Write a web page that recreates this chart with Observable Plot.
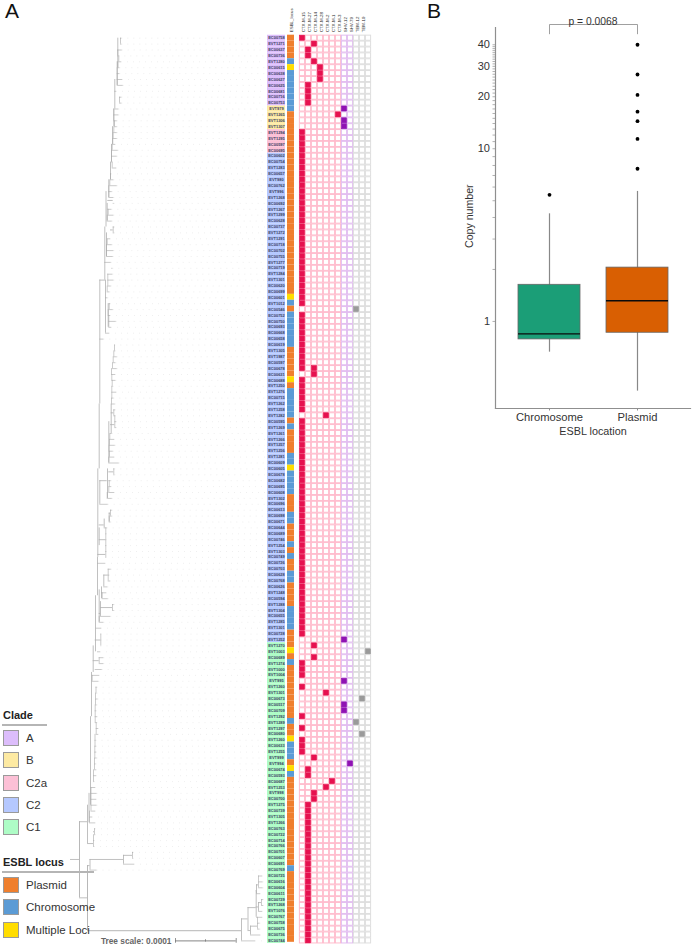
<!DOCTYPE html>
<html>
<head>
<meta charset="utf-8">
<script src="https://cdn.jsdelivr.net/npm/d3@7"></script>
<script src="https://cdn.jsdelivr.net/npm/@observablehq/plot@0.6"></script>
<style>
  html,body{margin:0;padding:0;background:#fff;}
  #page{position:relative;width:692px;height:945px;overflow:hidden;font-family:"Liberation Sans",Arial,sans-serif;}
  #page svg{position:absolute;top:0;background:transparent;}
  .letter{position:absolute;font-size:21px;line-height:20px;color:#111;}
  .legTitle{position:absolute;left:3px;font-size:11px;font-weight:bold;color:#222;line-height:13px;}
  .legRule{position:absolute;left:2px;height:1.5px;background:#b5b5b5;}
  .swatch{position:absolute;left:3px;width:14px;height:14px;border:1px solid #9a9a9a;}
  .legLab{position:absolute;left:26px;font-size:11.5px;line-height:14px;color:#333;}
</style>
</head>
<body>
<div id="page"></div>
<script>
// ---------- Panel A data ----------
const rowIds = [
"EC00758","EVT1271","EC00637","EC00736","EVT1280","EC00615","EC00638","EC00627","EC00625","EC00681",
"EC00716","EC00753","EVT979","EVT1265","EVT1306","EVT1307","EVT1294","EVT1295","EC00597","EC00695",
"EC00602","EC00754","EVT1283","EC00657","EVT980","EC00762","EVT996","EVT1268","EC00692","EVT1267",
"EVT1299","EC00628","EC00737","EVT1272","EVT1291","EC00718","EC00702","EC00755","EVT1277","EC00719",
"EVT1284","EVT1301","EC00620","EC00699","EC00601","EVT1012","EC00546","EC00752","EC00750","EC00693",
"EC00668","EC00658","EC00619","EVT1305","EVT1987","EC00597","EC00678","EC00631","EC00688","EVT1250",
"EVT1276","EC00715","EVT1262","EVT1258","EVT1282","EC00595","EVT1269","EVT1261","EVT1266","EVT1257",
"EVT1256","EVT1281","EC00609","EC00605","EC00678","EC00682","EC00695","EC00608","EVT1302","EC00696",
"EC00613","EC00698","EC00671","EC00644","EC00689","EC00746","EVT1254","EVT1303","EC00749","EC00726",
"EC00703","EC00628","EC00768","EC00626","EVT1248","EC00594","EVT1288","EVT1304","EC00655","EVT1285",
"EVT1301","EC00728","EVT1252","EVT1270","EVT1003","EC00689","EVT1274","EVT1000","EVT1004","EVT995",
"EVT1260","EVT1301","EC00673","EC00517","EC00709","EVT1292","EVT1289","EVT1297","EC00680","EVT1260",
"EC00633","EVT1255","EVT999","EVT994","EC00674","EC00593","EC00687","EVT1253","EVT998","EC00700",
"EVT1275","EC00739","EVT1305","EVT1266","EC00763","EC00722","EC00714","EC00766","EC00701","EC00607",
"EC00691","EC00769","EC00725","EC00616","EC00604","EC00611","EC00729","EVT1268","EVT1076","EC00767",
"EC00758","EC00675","EC00736","EC00744"];

const cladeNames = ["A","B","C2a","C2","C1"];
const cladeColors = ["#dcbdfb","#fdeaa3","#fcc0d6","#b5c8ff","#aefcc6"];
const cladeRuns = [["A",12],["B",4],["C2a",4],["C2",83],["C1",51]];

const locusNames = ["Plasmid","Chromosome","Multiple Loci"];
const locusColors = ["#ef7f2e","#5b9bd5","#ffdd00"];
const locusRuns = [["P",4],["C",1],["M",1],["C",7],["P",31],["M",1],["C",1],["P",1],["C",6],["P",5],["M",1],["P",1],
["C",5],["P",1],["C",1],["P",4],["C",2],["M",1],["C",4],["P",3],["C",2],["P",3],["C",1],["P",1],["C",1],["P",2],
["C",2],["P",4],["C",4],["P",3],["M",1],["P",1],["C",1],["P",9],["C",1],["P",2],["M",1],["C",3],["P",1],["M",1],
["C",1],["P",15],["C",1],["P",12]];

const geneNames = ["CTX-M-15","CTX-M-27","CTX-M-14","CTX-M-28","CTX-M-2","CTX-M-1","CTX-M-3","SHV-12","SHV-79","TEM-12","TEM-19",""];
const geneFamilies = ["CTX-M","CTX-M","CTX-M","CTX-M","CTX-M","CTX-M","CTX-M","SHV","SHV","TEM","TEM","TEM"];
const familyNames = ["CTX-M","SHV","TEM"];
const familyHitColors = ["#e6114f","#8f12b3","#9a9a9a"];
const familyGridColors = ["#ffbccd","#e2bdf0","#dedede"];
// gene column -> [first row, last row] ranges carrying that gene
const geneHits = [
 [[0,0],[16,45],[47,56],[58,63],[65,101],[106,108],[110,110],[115,115],[117,117],[119,121]],
 [[2,3],[8,11],[124,125],[130,153]],
 [[1,1],[4,4],[56,57],[103,103],[105,105],[122,122],[128,129]],
 [[5,7]],
 [[64,64],[111,111],[127,127]],
 [[126,126]],
 [[13,13]],
 [[12,12],[14,15],[102,102],[109,109],[113,114]],
 [[123,123]],
 [[46,46],[116,116]],
 [[112,112],[118,118]],
 [[104,104]]
];

// tree: branch start and tip per row, in tree units (60.7 units = 0.0001 subst/site)
const treeParent = [
241,250,257,257,256,258,261,261,256,258,
258,258,89.5,123,132,132,93,93,94,94,
89,89,90.5,90.5,90.5,90.5,90.5,93,93,94,
94,94.3,94.3,94.5,94.5,95.7,95.7,94.7,94.7,94.7,
95,95,95.5,95.5,91.7,91.7,94.7,98.7,98.7,97,
100.3,100.3,100.3,95.7,98.7,100,112,112,101.7,101,
103.3,107.7,107.7,107.7,97.3,105.3,105.3,105.3,105.3,105.3,
103.7,108.7,110,110,99.3,106.7,108.3,108.7,108.3,113.3,
113.3,108.3,109,108.7,109,109.3,110,114.3,114.3,113.3,
113.3,111,111.3,111.3,111.7,111.3,111,112,112.7,113.3,
114,114,99.3,105,108.3,108.3,107.7,108.7,108.7,105,
106.7,107.3,107.3,107.3,111.3,104.3,106,106,106.7,107.3,
112.7,112.7,106.7,107.7,107.3,112.7,108.3,108.3,109.3,110,
110,111.7,111,111,111.7,112.3,112.7,113.3,114,113.3,
113.3,114.3,119,119,114.3,116.7,116.7,116.7,117.3,118.3,
117.3,117.3,120,120];
const treeTip = [
255,260,259.5,259.5,262,262,263,263,260,262.5,
262.5,262,96.5,134,133,133,94,94,95,95,
95,92,95,96.5,96,96.5,95,94,96,96,
95.5,96.5,96,96,95.5,98,98,96.5,97,96,
96.5,97.5,96.5,96.7,98.3,99,101.7,103.3,103.3,100,
100.5,100.5,100.5,101,103.3,110.3,113.7,113.7,107.7,106,
107.3,110,109,110.7,105,106,106,106,105.7,106,
106.7,110.3,111.7,111.7,107.7,111.7,114,111,110.7,114.3,
114.3,118.7,114,112.7,114.7,114,111.7,116,116,115,
115,114.7,113.3,116,112.7,115.3,115,116.7,115.3,116.7,
115,114.3,103.3,109,111,115.7,110,112.7,110,107.3,
109.3,110.7,113.3,112.3,112.3,110.7,112.7,113.3,111.7,110,
114,114,111.7,113.3,111.3,113.7,113.3,111.7,116.7,113.3,
111,116,111.7,116.7,117.7,115,116.7,116.7,116.7,116.7,
118.3,118.3,121.3,121.3,116,122.7,122,119.3,119.3,121,
118.3,121.7,121.3,121.3];
// internal branches: [x, row from, row to]
const treeVert = [
[79,7.3,20.2],[87,1.75,12.76],[241,0,3.73],[247.5,1.75,5.64],[250,1,2.5],[255.7,4,8.5],[258,5,6.5],[256,8,9.5],
[89.5,12,13.8],[123,13,14.5],[87,16.5,23],[88.5,20,25],[90,23,38],[91,38,45.5],[92.7,45.5,50],[95,49,58.5],
[97,58.5,65],[97.3,65,80],[98.7,80,91],[99.3,91,112],[98.7,54,59.5],[100,55,57.5],[101,58,60],[103.3,60,62],
[98.7,67,70],[103.7,70,71.5],[108.7,71,72.5],[99.3,74,78],[107,75,80],[108.3,81,88],[110.7,86,91],
[105,103,112],[107.7,104,108],[104.3,112,121],[106,116,120],[106.7,122,125],[105.5,121,127],[108.3,126,129],
[110,129,132],[111,132,135],[112,135,138],[113.3,138,141],[114.3,141,146],[116.7,145,149],[117.3,148,153]
];
// internal branches: [x from, x to, row]
const treeHoriz = [
[70,79,13.8],[79,87,7.3],[241,247.5,3.73],[247.5,250,1.75],[247.5,255.7,5.64],[250,257,2.5],[255.7,258,5.75],
[258,261,6.5],[255.7,256,8.5],[256,258,9.5],[87,89.5,12.76],[89.5,123,13.8],[123,132,14.5],[79,87,20.2],[87,93,16.5],
[93,94,18.5],[92.7,98.7,47.5],[94.7,100.3,51],[98.7,100,55.5],[100,112,56.5],[103.3,107.7,62],[97.3,105.3,65.5],
[98.7,105.3,68],[98.7,103.7,70.5],[108.7,110,72.5],[99.3,106.7,78],[108.3,113.3,79.5],[110,114.3,87.5],[110.7,113.3,89.5],
[99.3,105,112],[110,112.7,120.5],[107.3,112.7,125.5]
];
const treeTrunk = [[87,241,1.75]];
const scaleBarStart = 175, scaleBarMid = 205, scaleBarEnd = 235.7, scaleBarRow = 0;
const treeLabel = "Tree scale: 0.0001";

// ---------- Panel B data ----------
const boxCategories = ["Chromosome","Plasmid"];
const boxColors = ["#1b9e77","#d95f02"];
const boxQ1 = [0.787,0.86];
const boxMedian = [0.848,1.318];
const boxQ3 = [1.63,2.05];
const whiskerLow = [0.664,0.395];
const whiskerHigh = [4.2,5.66];
const outlierChromosome = [5.41];
const outlierPlasmid = [40,26.9,20.5,16.4,14.45,11.4,7.66];
const yTicksLabelled = [1,5,10,20,30,40];
const yTicksAll = d3.range(1,41);
const pText = "p = 0.0068";

// ---------- build tables ----------
const expand = runs => runs.flatMap(([k,n]) => Array(n).fill(k));
const cladeOf = expand(cladeRuns);
const locusKey = {P:"Plasmid",C:"Chromosome",M:"Multiple Loci"};
const locusOf = expand(locusRuns).map(k => locusKey[k]);
const rows = rowIds.map((id,i)=>({i,id,clade:cladeOf[i],locus:locusOf[i],parent:treeParent[i],tip:treeTip[i]}));
const rowDomain = rows.map(r=>r.i);
const geneCols = geneNames.map((g,c)=> c + "|" + g);
const grid = geneCols.flatMap((g,c)=>rows.map(r=>({g,row:r.i,family:geneFamilies[c]})));
const hits = geneHits.flatMap((ranges,c)=>ranges.flatMap(([a,b])=>d3.range(a,b+1).map(row=>({g:geneCols[c],row,family:geneFamilies[c]}))));

const page = document.getElementById("page");
const FONT = '"Liberation Sans",Arial,sans-serif';
const M_TOP = 34.75, M_BOTTOM = 1.65;

function place(svg,left){ svg.style.left = left+"px"; page.appendChild(svg); }

function rowPlot(left,width,xDomain,extra,marks){
  const p = Plot.plot({
    width, height:945, marginTop:M_TOP, marginBottom:M_BOTTOM, marginLeft:0, marginRight:0,
    style:{fontFamily:FONT,background:"transparent",overflow:"visible"},
    x:{type:"band",domain:xDomain,padding:0,axis:null},
    y:{type:"band",domain:rowDomain,padding:0,axis:null},
    ...extra, marks});
  place(p,left);
}

// ---------- tree ----------
const autoVert = [];
for(let i=0;i<rows.length-1;i++){
  if(Math.abs(treeParent[i]-treeParent[i+1])<1.6) autoVert.push([treeParent[i],i,i+1]);
}
place(Plot.plot({
  width:267,height:945,marginTop:M_TOP,marginBottom:M_BOTTOM,marginLeft:0,marginRight:0,
  style:{fontFamily:FONT,background:"transparent",overflow:"visible"},
  x:{domain:[0,267],axis:null},
  y:{domain:[-0.5,153.5],axis:null},
  marks:[
    Plot.ruleY(rows,{y:"i",x1:"tip",x2:()=>265,stroke:"#e4e4e4",strokeWidth:0.6,strokeDasharray:"1,5"}),
    Plot.ruleY(treeTrunk,{x1:d=>d[0],x2:d=>d[1],y:d=>d[2],stroke:"#c4c4c4",strokeWidth:1.2}),
    Plot.ruleX(treeVert.slice(0,2),{x:d=>d[0],y1:d=>d[1],y2:d=>d[2],stroke:"#b8b8b8",strokeWidth:1}),
    Plot.ruleX(treeVert.slice(2),{x:d=>d[0],y1:d=>d[1],y2:d=>d[2],stroke:"#b0b0b0",strokeWidth:0.8}),
    Plot.ruleX(autoVert,{x:d=>d[0],y1:d=>d[1],y2:d=>d[2],stroke:"#a8a8a8",strokeWidth:0.6}),
    Plot.ruleY(treeHoriz,{x1:d=>d[0],x2:d=>d[1],y:d=>d[2],stroke:"#b0b0b0",strokeWidth:0.8}),
    Plot.ruleY(rows,{x1:"parent",x2:"tip",y:"i",stroke:"#a8a8a8",strokeWidth:0.6}),
    Plot.ruleY([scaleBarRow],{x1:()=>scaleBarStart,x2:()=>scaleBarEnd,stroke:"#777",strokeWidth:0.9}),
    Plot.ruleX([scaleBarStart,scaleBarEnd],{y1:()=>scaleBarRow-0.4,y2:()=>scaleBarRow+0.4,stroke:"#777",strokeWidth:0.8}),
    Plot.ruleX([scaleBarMid],{y1:()=>scaleBarRow-0.2,y2:()=>scaleBarRow+0.2,stroke:"#777",strokeWidth:0.8}),
    Plot.text([treeLabel],{x:()=>scaleBarStart,y:()=>scaleBarRow,dx:-4,textAnchor:"end",fontSize:8.3,fontWeight:"bold",fill:"#666"})
  ]
}),0);

// ---------- clade / id column ----------
rowPlot(266.7,18.6,["id"],{color:{domain:cladeNames,range:cladeColors}},[
  Plot.cell(rows,{x:()=>"id",y:"i",fill:"clade"}),
  Plot.text(rows,{x:()=>"id",y:"i",text:"id",fontSize:4,fontWeight:"bold",fill:"#3a3f63",textAnchor:"middle"})
]);

// ---------- ESBL locus column ----------
rowPlot(287.3,7.7,["ESBL_locus"],{color:{domain:locusNames,range:locusColors}},[
  Plot.cell(rows,{x:()=>"ESBL_locus",y:"i",fill:"locus"}),
  Plot.text(["ESBL_locus"],{x:d=>d,frameAnchor:"top",rotate:-90,textAnchor:"start",dy:-3,dx:-1,fontSize:4.4,fill:"#222"})
]);

// ---------- gene matrix ----------
rowPlot(297,75,geneCols,{color:{domain:familyNames,range:familyHitColors}},[
  ...familyNames.map((f,k)=>Plot.cell(grid.filter(d=>d.family===f),{x:"g",y:"row",fill:"white",stroke:familyGridColors[k],strokeWidth:1,inset:0.4})),
  Plot.cell(hits,{x:"g",y:"row",fill:"family",stroke:"family",strokeWidth:0.5,inset:0.4}),
  Plot.text(geneCols.filter((g,c)=>geneNames[c]!==""),{x:d=>d,text:d=>d.split("|")[1],frameAnchor:"top",rotate:-90,textAnchor:"start",dy:-3,dx:-1,fontSize:4.4,fill:"#222"})
]);

// ---------- Panel B ----------
const boxes = boxCategories.map((c,i)=>({c,q1:boxQ1[i],med:boxMedian[i],q3:boxQ3[i],lo:whiskerLow[i],hi:whiskerHigh[i]}));
const outliers = [...outlierChromosome.map(v=>({c:boxCategories[0],v})),...outlierPlasmid.map(v=>({c:boxCategories[1],v}))];
const yLow = 0.3133, yHigh = 61.5, axisGray = "#8f8f8f", inkGray = "#333";
const bracket = [{c:boxCategories[0],v:46.3},{c:boxCategories[0],v:52.4},{c:boxCategories[1],v:52.4},{c:boxCategories[1],v:46.3}];
place(Plot.plot({
  width:272,height:440,marginTop:12,marginBottom:32,marginLeft:75,marginRight:2,
  style:{fontFamily:FONT,background:"transparent",overflow:"visible",fontSize:"11px"},
  x:{type:"band",domain:boxCategories,paddingInner:0.3,paddingOuter:0.25,label:null},
  y:{type:"log",domain:[yLow,yHigh],label:null},
  color:{domain:boxCategories,range:boxColors},
  marks:[
    Plot.ruleX(boxes,{x:"c",y1:"lo",y2:"hi",stroke:"#888",strokeWidth:1.2}),
    Plot.barY(boxes,{x:"c",y1:"q1",y2:"q3",fill:"c",stroke:"#666",strokeWidth:0.8}),
    Plot.tickY(boxes,{x:"c",y:"med",stroke:"#0b0b0b",strokeWidth:1.3}),
    Plot.dot(outliers,{x:"c",y:"v",r:1.9,fill:"#000"}),
    Plot.line(bracket,{x:"c",y:"v",stroke:"#888",strokeWidth:0.8,curve:"linear"}),
    Plot.text([pText],{frameAnchor:"top",dy:5,fontSize:10.3,fill:inkGray}),
    Plot.frame({anchor:"bottom",stroke:axisGray,strokeWidth:1.2}),
    Plot.frame({anchor:"left",insetTop:15,stroke:axisGray,strokeWidth:1.2}),
    Plot.axisY({ticks:yTicksAll,tickFormat:d=>yTicksLabelled.includes(d)?String(d):"",tickSize:2.5,tickPadding:3,fontSize:11,stroke:axisGray,strokeWidth:0.7,color:inkGray,label:null}),
    Plot.axisX({tickSize:2.5,tickPadding:2,fontSize:11.2,stroke:axisGray,color:inkGray,label:null}),
    Plot.text(["ESBL location"],{frameAnchor:"bottom",dy:26,fontSize:10.8,fill:inkGray}),
    Plot.text(["Copy number"],{frameAnchor:"left",y:()=>4.07,rotate:-90,dx:-25.7,fontSize:10.6,fill:inkGray,textAnchor:"middle"})
  ]
}),420);

// ---------- letters and legends ----------
function el(cls,css,txt){const d=document.createElement("div");d.className=cls;Object.assign(d.style,css);if(txt!=null)d.textContent=txt;page.appendChild(d);return d;}
el("letter",{left:"5px",top:"1px"},"A");
el("letter",{left:"427px",top:"1px"},"B");
function legend(title,top,ruleW,names,colors){
  el("legTitle",{top:top+"px"},title);
  el("legRule",{top:(top+15)+"px",width:ruleW+"px"});
  names.forEach((n,i)=>{
    const y = top+21+i*22.3;
    el("swatch",{top:y+"px",background:colors[i]});
    el("legLab",{top:(y+1)+"px"},n);
  });
}
legend("Clade",709,45,cladeNames,cladeColors);
legend("ESBL locus",856,92,locusNames,locusColors);
</script>
</body>
</html>
